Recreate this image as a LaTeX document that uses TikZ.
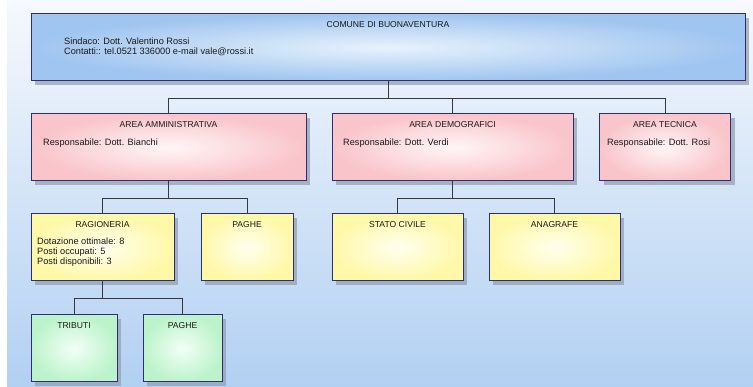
\documentclass[tikz,border=0pt]{standalone}
\usepackage{fontspec}
\setmainfont{Liberation Sans}
\usetikzlibrary{shadows}
\definecolor{bgtop}{RGB}{246,249,253}
\definecolor{bgbot}{RGB}{178,208,242}
\definecolor{edgec}{RGB}{45,45,120}
\definecolor{wirec}{RGB}{55,55,65}
\definecolor{blueout}{RGB}{160,197,240}
\definecolor{bluein}{RGB}{232,242,252}
\definecolor{pinkout}{RGB}{249,196,202}
\definecolor{pinkin}{RGB}{255,246,246}
\definecolor{yelout}{RGB}{255,248,168}
\definecolor{yelin}{RGB}{255,255,238}
\definecolor{greenout}{RGB}{188,243,203}
\definecolor{greenin}{RGB}{242,255,246}
\definecolor{shadowc}{RGB}{150,160,175}
\tikzset{
  box/.style={draw=edgec, line width=1pt, rectangle, inner sep=0pt,
    drop shadow={shadow xshift=4pt, shadow yshift=-4pt, fill=shadowc, opacity=0.75}},
  bluebox/.style={box, inner color=bluein, outer color=blueout},
  pinkbox/.style={box, inner color=pinkin, outer color=pinkout},
  yelbox/.style={box, inner color=yelin, outer color=yelout},
  greenbox/.style={box, inner color=greenin, outer color=greenout},
  ttl/.style={font=\fontsize{8.6}{10}\selectfont, inner sep=0pt, anchor=base, text=black!90},
  txt/.style={font=\fontsize{9.2}{10}\selectfont, inner sep=0pt, anchor=base west, text=black!90},
  wire/.style={draw=wirec, line width=0.8pt},
}
\begin{document}
\begin{tikzpicture}[x=1pt, y=-1pt]
\useasboundingbox (0,0) rectangle (753,387);
\shade[top color=bgtop, bottom color=bgbot] (7,0) rectangle (753,387);

% level 1
\node[bluebox, minimum width=714pt, minimum height=67pt] (top) at (388,47.5) {};
\node[ttl] (topT) at (388,27.5) {COMUNE DI BUONAVENTURA};
\node[txt] (topA) at (64,44.5) {Sindaco: Dott. Valentino Rossi};
\node[txt] (topB) at (64,55) {Contatti:: tel.0521 336000 e-mail vale@rossi.it};

% level 2
\node[pinkbox, minimum width=275pt, minimum height=67pt] (amm) at (168.5,147.5) {};
\node[ttl] (ammT) at (168.5,127.5) {AREA AMMINISTRATIVA};
\node[txt] (ammA) at (43,146) {Responsabile: Dott. Bianchi};

\node[pinkbox, minimum width=241pt, minimum height=67pt] (demo) at (452.5,147.5) {};
\node[ttl] (demoT) at (452.5,127.5) {AREA DEMOGRAFICI};
\node[txt] (demoA) at (343,146) {Responsabile: Dott. Verdi};

\node[pinkbox, minimum width=131pt, minimum height=67pt] (tecn) at (665,147.5) {};
\node[ttl] (tecnT) at (665,127.5) {AREA TECNICA};
\node[txt] (tecnA) at (607,146) {Responsabile: Dott. Rosi};

% level 3
\node[yelbox, minimum width=143pt, minimum height=67pt] (rag) at (102.5,247.5) {};
\node[ttl] (ragT) at (102.5,227.5) {RAGIONERIA};
\node[txt] (ragA) at (37,245) {Dotazione ottimale: 8};
\node[txt] (ragB) at (37,254.7) {Posti occupati: 5};
\node[txt] (ragC) at (37,264.4) {Posti disponibili: 3};

\node[yelbox, minimum width=92pt, minimum height=67pt] (paghe) at (247,247.5) {};
\node[ttl] (pagheT) at (247,227.5) {PAGHE};

\node[yelbox, minimum width=131pt, minimum height=67pt] (stato) at (397.5,247.5) {};
\node[ttl] (statoT) at (397.5,227.5) {STATO CIVILE};

\node[yelbox, minimum width=131pt, minimum height=67pt] (anag) at (554.5,247.5) {};
\node[ttl] (anagT) at (554.5,227.5) {ANAGRAFE};

% level 4
\node[greenbox, minimum width=86pt, minimum height=67pt] (trib) at (74,348.5) {};
\node[ttl] (tribT) at (74,328.5) {TRIBUTI};

\node[greenbox, minimum width=79pt, minimum height=67pt] (paghe2) at (182.5,348.5) {};
\node[ttl] (paghe2T) at (182.5,328.5) {PAGHE};

% connectors
\draw[wire] (top.south) -- ++(0,16.5) -| (amm.north);
\draw[wire] (top.south) -- ++(0,16.5) -| (demo.north);
\draw[wire] (top.south) -- ++(0,16.5) -| (tecn.north);
\draw[wire] (amm.south) -- ++(0,16.5) -| (rag.north);
\draw[wire] (amm.south) -- ++(0,16.5) -| (paghe.north);
\draw[wire] (demo.south) -- ++(0,16.5) -| (stato.north);
\draw[wire] (demo.south) -- ++(0,16.5) -| (anag.north);
\draw[wire] (rag.south) -- ++(0,17) -| (trib.north);
\draw[wire] (rag.south) -- ++(0,17) -| (paghe2.north);
\end{tikzpicture}
\end{document}
